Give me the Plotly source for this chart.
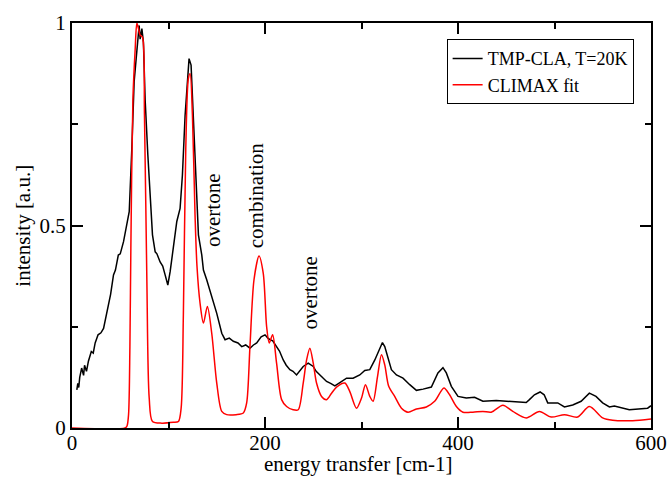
import plotly.graph_objects as go

# Experimental spectrum (TMP-CLA, T=20K)
exp_x = [5, 6, 7, 8, 10, 12, 13, 15, 17, 20, 22, 24, 27, 30, 32.7, 35, 37.9, 40, 43, 45,
         48, 50, 53.4, 55, 57, 59.3, 62, 64.4, 66.5, 68.3, 69.6, 70.6, 72.4, 74, 75.8,
         78.6, 81, 83.4, 86.2, 88, 91.3, 94, 96.5, 99.3, 101.7, 105.1, 108.6, 112, 114.4,
         117.2, 120, 121.3, 123.4, 125.8, 128.6, 131, 134.5, 136.2, 139.6, 144.8, 150,
         155.2, 158.6, 163, 167.2, 172, 175.9, 180, 184.4, 188, 191.4, 196, 200, 203,
         205.1, 208, 212, 215, 218.9, 222, 225.8, 229, 232.7, 236, 239.6, 244.8, 250, 253,
         256.9, 263.8, 268, 272.4, 277.6, 284.5, 291.3, 298.2, 303.4, 308.6, 313.8, 318.9,
         321.7, 324.1, 327.5, 331, 336.2, 343, 350, 356.9, 363.8, 372.4, 379.2, 384.4,
         387.9, 393.1, 400, 408.6, 417.2, 425.8, 439.6, 450, 460, 470.7, 474, 479.2, 485.1,
         489.3, 493, 503.4, 510.3, 518.9, 527.6, 536.1, 543, 549.9, 556.9, 562, 577.5,
         587.8, 596.5, 600]
exp_y = [0.094, 0.11, 0.10, 0.125, 0.148, 0.13, 0.155, 0.14, 0.165, 0.189, 0.185, 0.21,
         0.23, 0.235, 0.246, 0.275, 0.312, 0.33, 0.378, 0.39, 0.427, 0.43, 0.46, 0.48,
         0.50, 0.534, 0.69, 0.855, 0.912, 0.97, 0.994, 0.96, 0.986, 0.953, 0.81, 0.674,
         0.559, 0.477, 0.435, 0.43, 0.41, 0.40, 0.378, 0.353, 0.386, 0.444, 0.51, 0.542,
         0.624, 0.772, 0.888, 0.912, 0.896, 0.756, 0.592, 0.477, 0.427, 0.39, 0.366,
         0.324, 0.283, 0.234, 0.218, 0.222, 0.214, 0.21, 0.201, 0.205, 0.197, 0.205, 0.21,
         0.225, 0.23, 0.222, 0.218, 0.215, 0.201, 0.19, 0.168, 0.155, 0.144, 0.14, 0.131,
         0.14, 0.152, 0.16, 0.152, 0.14, 0.131, 0.115, 0.11, 0.104, 0.112, 0.123, 0.123,
         0.131, 0.142, 0.144, 0.168, 0.197, 0.211, 0.201, 0.173, 0.144, 0.131, 0.123,
         0.107, 0.093, 0.096, 0.101, 0.136, 0.149, 0.136, 0.103, 0.078, 0.074, 0.076,
         0.066, 0.068, 0.066, 0.065, 0.063, 0.07, 0.082, 0.089, 0.082, 0.062, 0.062, 0.052,
         0.057, 0.066, 0.086, 0.078, 0.062, 0.052, 0.054, 0.045, 0.048, 0.049, 0.055]

# CLIMAX fit
fit_x = [0, 55, 57, 58.6, 60, 61, 63.1, 65.5, 67.2, 68.9, 70.6, 73, 75.1, 77.6, 80, 83.4,
         93.1, 105, 110.3, 113.1, 115.4, 117.9, 120.6, 122.4, 124.8, 127.5, 129.5, 132.7,
         136.2, 140.3, 144.8, 150, 155.2, 160.3, 170, 177.5, 181, 184.4, 188.6, 193.8,
         198.2, 201.7, 204.4, 207.9, 212, 217.2, 222.4, 229.2, 234.4, 239.6, 243.1, 246.5,
         250, 253.4, 258.6, 263.8, 269, 274.1, 282.7, 287.9, 294.8, 300, 304.1, 308.6, 312,
         316.6, 320.7, 324.1, 328.2, 334.4, 341.4, 348.2, 356.9, 367.2, 375.8, 385.4, 391.3,
         398.3, 405.1, 415.4, 425.8, 434.5, 446.5, 456.8, 470.7, 484.4, 496.5, 510.3, 524,
         536.1, 549.9, 560.3, 581, 600]
fit_y = [0, 0, 0.005, 0.033, 0.2, 0.444, 0.81, 0.937, 1.0, 0.986, 0.97, 0.965, 0.772,
         0.361, 0.074, 0.016, 0.012, 0.014, 0.016, 0.049, 0.279, 0.69, 0.863, 0.875, 0.772,
         0.526, 0.40, 0.308, 0.259, 0.30, 0.234, 0.111, 0.041, 0.033, 0.033, 0.037, 0.062,
         0.201, 0.366, 0.425, 0.382, 0.25, 0.21, 0.23, 0.16, 0.07, 0.053, 0.045, 0.045,
         0.111, 0.168, 0.197, 0.16, 0.111, 0.078, 0.07, 0.086, 0.101, 0.111, 0.09, 0.049,
         0.074, 0.107, 0.078, 0.066, 0.127, 0.181, 0.156, 0.103, 0.078, 0.049, 0.039, 0.047,
         0.052, 0.066, 0.099, 0.082, 0.053, 0.039, 0.039, 0.041, 0.039, 0.056, 0.041, 0.025,
         0.041, 0.027, 0.033, 0.027, 0.053, 0.025, 0.019, 0.018, 0.022]

annot_text = ["overtone", "combination", "overtone"]
annot_x = [146.0, 191.0, 246.5]
annot_y = [0.538, 0.573, 0.334]

x_title = "energy transfer [cm-1]"
y_title = "intensity [a.u.]"

FONT = "Liberation Serif, Times New Roman, serif"

fig = go.Figure()
fig.add_trace(go.Scatter(x=exp_x, y=exp_y, mode="lines", name="TMP-CLA, T=20K",
                         line=dict(color="black", width=1.5)))
fig.add_trace(go.Scatter(x=fit_x, y=fit_y, mode="lines", name="CLIMAX fit",
                         line=dict(color="red", width=1.5, shape="spline", smoothing=0.8)))

for t, ax, ay in zip(annot_text, annot_x, annot_y):
    fig.add_annotation(x=ax, y=ay, text=t, textangle=-90, showarrow=False,
                       xanchor="center", yanchor="middle",
                       font=dict(family=FONT, size=21, color="black"))

# axis titles placed as paper annotations for exact placement
fig.add_annotation(x=0.495, y=-0.088, xref="paper", yref="paper", text=x_title,
                   showarrow=False, xanchor="center", yanchor="middle",
                   font=dict(family=FONT, size=21, color="black"))
fig.add_annotation(x=-0.086, y=0.5, xref="paper", yref="paper", text=y_title,
                   textangle=-90, showarrow=False, xanchor="center", yanchor="middle",
                   font=dict(family=FONT, size=21, color="black"))

axis_common = dict(showgrid=False, zeroline=False, showline=True, linecolor="black",
                   linewidth=2, mirror="allticks", ticks="inside", ticklen=11,
                   tickwidth=1.5, tickcolor="black", automargin=False,
                   tickfont=dict(family=FONT, size=21, color="black"))

fig.update_xaxes(range=[0, 600], tickvals=[0, 200, 400, 600],
                 minor=dict(tickvals=[100, 300, 500], ticks="inside", ticklen=6,
                            tickwidth=1.5, tickcolor="black"),
                 ticklabelstandoff=-5,
                 **axis_common)
fig.update_yaxes(range=[0, 1], tickvals=[0, 0.5, 1], ticktext=["0", "0.5", "1"],
                 minor=dict(tickvals=[0.25, 0.75], ticks="inside", ticklen=6,
                            tickwidth=1.5, tickcolor="black"),
                 **axis_common)

fig.update_layout(
    width=668, height=477,
    margin=dict(l=72, r=17, t=23, b=49, autoexpand=False),
    paper_bgcolor="white", plot_bgcolor="white",
    showlegend=True,
    legend=dict(x=0.97, y=0.96, xanchor="right", yanchor="top",
                bgcolor="white", bordercolor="black", borderwidth=1,
                font=dict(family=FONT, size=18, color="black"),
                itemwidth=30, tracegroupgap=0),
)

fig.write_html("out.html")
